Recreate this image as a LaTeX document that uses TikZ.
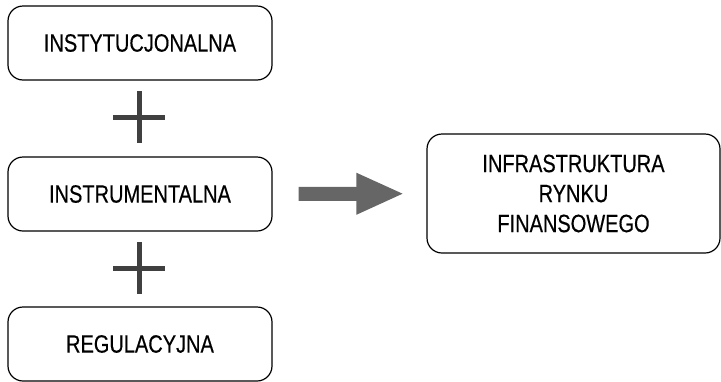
\documentclass[tikz,border=0pt]{standalone}
\usepackage{fontspec}
\setmainfont[FakeStretch=0.8,FakeBold=0.4]{Liberation Sans}
\usetikzlibrary{arrows.meta,positioning}
\definecolor{plusgray}{HTML}{404040}
\definecolor{arrowgray}{HTML}{666666}
\tikzset{
	box/.style={draw,rounded corners=15pt,line width=1.2pt,minimum width=264pt,minimum height=74pt,
		align=center,font=\fontsize{25}{30}\selectfont},
	plus/.style={line width=5pt,color=plusgray},
	fatarrow/.style={line width=14pt,color=arrowgray,-{Triangle[length=48pt,width=38pt]}}
}

\begin{document}
\begin{tikzpicture}[x=1pt,y=-1pt]
			\useasboundingbox (0,0) rectangle (721,381);
			\node[box] (inst) at (140,43) {INSTYTUCJONALNA};
			\node[box] (instr) at (140,194) {INSTRUMENTALNA};
			\node[box] (reg) at (140,344) {REGULACYJNA};
			\node[box,minimum width=293pt,minimum height=119pt] (infra) at (573.5,193.5)
				{INFRASTRUKTURA\\RYNKU\\FINANSOWEGO};

			% plusy
			\draw[plus] (113,117) -- (165,117);
			\draw[plus] (139,91) -- (139,143);
			\draw[plus] (113,268) -- (165,268);
			\draw[plus] (139,242) -- (139,294);

			\draw[fatarrow,shorten <=26pt,shorten >=22pt] (instr) -- (infra);
			\end{tikzpicture}
\end{document}
